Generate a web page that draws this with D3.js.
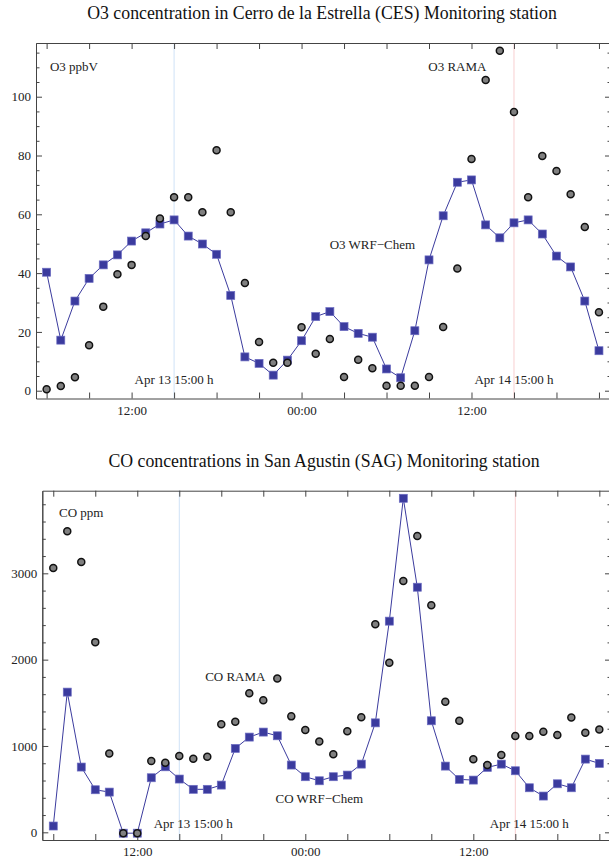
<!DOCTYPE html>
<html>
<head>
<meta charset="utf-8">
<script src="https://cdn.jsdelivr.net/npm/d3@7"></script>
<style>
body { margin: 0; background: #fff; }
svg { display: block; font-family: "Liberation Serif", "DejaVu Serif", serif; }
</style>
</head>
<body>
<svg width="609" height="861"></svg>
<script>
// hourly time stamps, Apr 13 06:00 -> Apr 14 21:00
const hours = d3.utcHour.range(new Date(Date.UTC(2013, 3, 13, 6)), new Date(Date.UTC(2013, 3, 14, 22)))
const marks = [new Date(Date.UTC(2013, 3, 13, 15)), new Date(Date.UTC(2013, 3, 14, 15))]

// O3 (ppbV) at CES
const o3Model = [40.3, 17.2, 30.5, 38.2, 42.8, 46.2, 50.9, 53.7, 56.7, 58.1,
                 52.6, 49.9, 46.4, 32.4, 11.5, 9.3, 5.3, 10.4, 17.0, 25.2,
                 26.9, 21.8, 19.5, 18.2, 7.4, 4.4, 20.4, 44.5, 59.5, 70.9,
                 71.7, 56.4, 52.0, 57.1, 58.1, 53.3, 45.8, 42.1, 30.5, 13.6]
const o3Obs = [0.5, 1.6, 4.6, 15.5, 28.6, 39.6, 42.8, 52.6, 58.6, 65.8,
               65.8, 60.7, 81.8, 60.7, 36.6, 16.6, 9.5, 9.5, 21.6, 12.6,
               17.6, 4.7, 10.5, 7.6, 1.7, 1.7, 1.7, 4.7, 21.7, 41.6,
               78.8, 105.7, 115.6, 94.8, 65.8, 79.8, 74.7, 66.8, 55.7, 26.7]
const o3Ticks = [0, 20, 40, 60, 80, 100]

// CO at SAG
const coModel = [73, 1624, 756, 493, 466, -10, -10, 632, 759, 617,
                 498, 498, 547, 972, 1103, 1161, 1118, 779, 644, 597,
                 644, 663, 790, 1268, 2446, 3869, 2839, 1292, 767, 613,
                 605, 752, 790, 713, 516, 420, 562, 516, 848, 798]
const coObs = [3062, 3487, 3132, 2203, 914, -12, -12, 825, 806, 883,
               852, 875, 1253, 1280, 1612, 1531, 1782, 1343, 1184, 1053,
               903, 1172, 1334, 2411, 1963, 2912, 3433, 2631, 1512, 1292,
               845, 779, 895, 1115, 1115, 1165, 1126, 1331, 1153, 1192]
const coTicks = [0, 1000, 2000, 3000]

const t = (d, h, m) => new Date(Date.UTC(2013, 3, d, h, m || 0))

const o3Labels = [
  { text: "O3 ppbV", time: t(13, 6, 14), value: 108.7, anchor: "start" },
  { text: "O3 RAMA", time: t(14, 11), value: 108.7, anchor: "middle" },
  { text: "O3 WRF\u2212Chem", time: t(14, 5), value: 48.2, anchor: "middle" },
  { text: "Apr 13 15:00 h", time: t(13, 15), value: 2.3, anchor: "middle" },
  { text: "Apr 14 15:00 h", time: t(14, 15), value: 2.3, anchor: "middle" }
]
const coLabels = [
  { text: "CO ppm", time: t(13, 8), value: 3652, anchor: "middle" },
  { text: "CO RAMA", time: t(13, 19), value: 1753, anchor: "middle" },
  { text: "CO WRF\u2212Chem", time: t(14, 1), value: 339, anchor: "middle" },
  { text: "Apr 13 15:00 h", time: t(13, 16), value: 50, anchor: "middle" },
  { text: "Apr 14 15:00 h", time: t(14, 16), value: 50, anchor: "middle" }
]

const modelColor = "#3b3b9e"
const markColors = ["#cfe2f7", "#f8cfd0"]

drawPanel({
  title: "O3 concentration in Cerro de la Estrella (CES) Monitoring station",
  titleY: 19, titleX: 322,
  left: 36, right: 611, top: 43, bottom: 398.5,
  xDomain: [t(13, 5, 15), t(14, 21, 51)],
  yDomain: [-2.65, 118.27],
  model: o3Model, obs: o3Obs, ticks: o3Ticks, minorStep: 5,
  labels: o3Labels
})
drawPanel({
  title: "CO concentrations in San Agustin (SAG) Monitoring station",
  titleY: 466.5, titleX: 324,
  left: 42.3, right: 611, top: 490.7, bottom: 840,
  xDomain: [t(13, 5, 13), t(14, 21, 50)],
  yDomain: [-89, 3957],
  model: coModel, obs: coObs, ticks: coTicks, minorStep: 200,
  labels: coLabels
})

function drawPanel(p) {
  const svg = d3.select("svg")
  const g = svg.append("g")
  const x = d3.scaleUtc().domain(p.xDomain).range([p.left, p.right])
  const y = d3.scaleLinear().domain(p.yDomain).range([p.bottom, p.top])

  g.append("text")
    .attr("x", p.titleX).attr("y", p.titleY)
    .attr("text-anchor", "middle")
    .style("font-size", "17.8px").style("fill", "#111")
    .text(p.title)

  // vertical reference lines
  g.selectAll("line.mark").data(marks).enter().append("line")
    .attr("class", "mark")
    .attr("x1", d => x(d)).attr("x2", d => x(d))
    .attr("y1", p.top).attr("y2", p.bottom)
    .style("stroke", (d, i) => markColors[i]).style("stroke-width", 1)

  const every3 = d3.utcHour.every(3)
  const fmt = d => d.getUTCHours() % 12 === 0 ? d3.utcFormat("%H:%M")(d) : ""
  const minor = d3.range(Math.ceil(p.yDomain[0] / p.minorStep) * p.minorStep, p.yDomain[1], p.minorStep)
    .filter(v => !p.ticks.includes(v))

  const axes = [
    g.append("g").attr("transform", `translate(0,${p.bottom})`)
      .call(d3.axisBottom(x).ticks(every3).tickFormat(fmt).tickSizeInner(-6).tickSizeOuter(0).tickPadding(7)),
    g.append("g").attr("transform", `translate(0,${p.top})`)
      .call(d3.axisTop(x).ticks(every3).tickFormat("").tickSizeInner(-6).tickSizeOuter(0)),
    g.append("g").attr("transform", `translate(${p.left},0)`)
      .call(d3.axisLeft(y).tickValues(p.ticks).tickFormat(d3.format("d")).tickSizeInner(-6).tickSizeOuter(0).tickPadding(5)),
    g.append("g").attr("transform", `translate(${p.left},0)`)
      .call(d3.axisLeft(y).tickValues(minor).tickFormat("").tickSizeInner(-3.5).tickSizeOuter(0)),
    g.append("g").attr("transform", `translate(${p.right},0)`)
      .call(d3.axisRight(y).tickValues(p.ticks).tickFormat("").tickSizeInner(-6).tickSizeOuter(0)),
    g.append("g").attr("transform", `translate(${p.right},0)`)
      .call(d3.axisRight(y).tickValues(minor).tickFormat("").tickSizeInner(-3.5).tickSizeOuter(0))
  ]
  axes.forEach(a => {
    a.select(".domain").style("stroke", "#444")
    a.selectAll(".tick line").style("stroke", "#444")
    a.selectAll(".tick text").style("font-family", "Liberation Serif").style("font-size", "13px").style("fill", "#222")
  })

  const pts = hours.map((h, i) => ({ time: h, model: p.model[i], obs: p.obs[i] }))

  g.append("path").datum(pts)
    .attr("d", d3.line().x(d => x(d.time)).y(d => y(d.model)))
    .style("fill", "none").style("stroke", modelColor).style("stroke-width", 1)

  g.selectAll("rect.model").data(pts).enter().append("rect")
    .attr("class", "model")
    .attr("x", d => x(d.time) - 4).attr("y", d => y(d.model) - 4)
    .attr("width", 8).attr("height", 8)
    .style("fill", modelColor).style("stroke", "#6d6dc2").style("stroke-width", 0.7)

  g.selectAll("circle.obs").data(pts).enter().append("circle")
    .attr("class", "obs")
    .attr("cx", d => x(d.time)).attr("cy", d => y(d.obs))
    .attr("r", 3.5)
    .style("fill", "#808080").style("stroke", "#111").style("stroke-width", 1.5)

  g.selectAll("text.lab").data(p.labels).enter().append("text")
    .attr("class", "lab")
    .attr("x", d => x(d.time)).attr("y", d => y(d.value))
    .attr("text-anchor", d => d.anchor)
    .style("font-size", "13px").style("fill", "#222")
    .text(d => d.text)
}
</script>
</body>
</html>
